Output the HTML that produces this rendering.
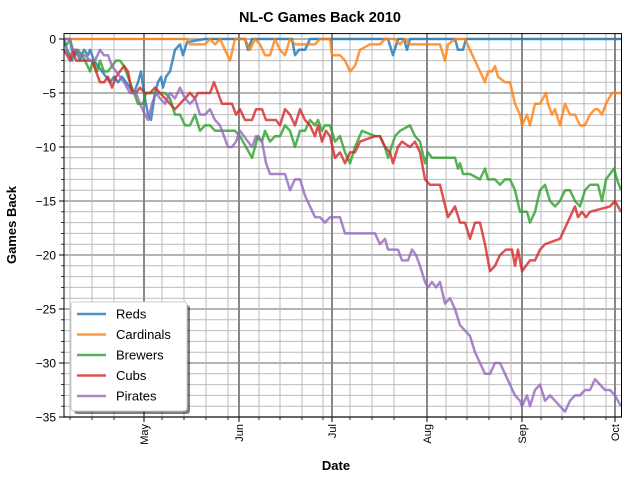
<!DOCTYPE html>
<html><head><meta charset="utf-8"><style>
html,body{margin:0;padding:0;background:#fff;}
svg{display:block;font-family:"Liberation Sans","DejaVu Sans",sans-serif;}
</style></head><body>
<svg id="s" width="640" height="480" xmlns="http://www.w3.org/2000/svg"></svg>
<script>
var S=document.getElementById('s'),h='';
function Y(v){return 39-v*10.8;}
var L=64,R=621.5,T=33.6,B=417;
for(var v=0;v>=-35;v--){h+='<line x1="'+L+'" x2="'+R+'" y1="'+Y(v)+'" y2="'+Y(v)+'" stroke="'+(v%5==0?'#999':'#bbb')+'" stroke-width="'+(v%5==0?1.6:1)+'"/>';}
var minor=[70,92,114,162,184,206,228,259,280,302,323,350,372,394,446,467,489,511,541,562,584,606];
minor.forEach(function(x){h+='<line x1="'+x+'" x2="'+x+'" y1="'+T+'" y2="'+B+'" stroke="#bbb" stroke-width="1"/>';h+='<line x1="'+x+'" x2="'+x+'" y1="'+B+'" y2="'+(B+3)+'" stroke="#000" stroke-width="0.8"/>';});
var major=[[144,'May'],[239,'Jun'],[332,'Jul'],[427,'Aug'],[522,'Sep'],[615,'Oct']];
major.forEach(function(m){h+='<line x1="'+m[0]+'" x2="'+m[0]+'" y1="'+T+'" y2="'+B+'" stroke="#888" stroke-width="2"/>';
h+='<line x1="'+m[0]+'" x2="'+m[0]+'" y1="'+B+'" y2="'+(B+5)+'" stroke="#000" stroke-width="1"/>';
h+='<text transform="translate('+(m[0]+4)+','+(B+7)+') rotate(-90)" text-anchor="end" font-size="11">'+m[1]+'</text>';});
for(var v=0;v>=-35;v-=5){h+='<line x1="'+(L-5)+'" x2="'+L+'" y1="'+Y(v)+'" y2="'+Y(v)+'" stroke="#000"/>';h+='<text x="'+(L-8)+'" y="'+(Y(v)+4.5)+'" text-anchor="end" font-size="12">'+(v==0?'0':'\u2212'+(-v))+'</text>';}
for(var v=-1;v>-35;v--){if(v%5)h+='<line x1="'+(L-3)+'" x2="'+L+'" y1="'+Y(v)+'" y2="'+Y(v)+'" stroke="#000" stroke-width="0.8"/>';}
var D={
'#1f77b4':[[64,0],[67,-1],[72,-2],[76,-1],[80,-2],[84,-1],[88,-1.5],[90,-1],[94,-2],[98,-2.5],[102,-3],[106,-3.5],[110,-4],[114,-3.5],[118,-4],[122,-3.5],[126,-4],[130,-4.5],[134,-5],[138,-4],[141,-3],[144,-5],[148,-7],[151,-7.5],[155,-5],[158,-4],[161,-3.5],[163,-4.5],[166,-3.5],[170,-3],[175,-1],[180,-0.5],[183,-1.5],[187,-0.3],[205,0],[245,0],[248,-1],[252,0],[292,0],[295,-1.5],[299,-1],[305,-1],[310,0],[388,0],[393,-1.5],[398,0],[404,0],[407,-1],[410,0],[455,0],[458,-1],[463,-1],[466,0],[621,0]],
'#ff7f0e':[[64,0],[187,0],[190,-0.5],[205,-0.5],[210,0],[215,-0.5],[220,0],[225,-1],[230,-2],[235,0],[245,0],[250,-1],[255,0],[260,-0.5],[265,-1.5],[270,-1.5],[275,0],[280,-1],[285,-1.5],[290,0],[295,-0.5],[305,-0.5],[315,-0.5],[320,0],[330,0],[332,-1.5],[340,-1.5],[345,-2],[350,-3],[355,-2.5],[360,-1],[370,-0.5],[380,-0.5],[385,0],[395,0],[400,-0.5],[405,0],[410,-0.5],[428,-0.5],[440,-0.5],[445,-2],[448,-0.5],[455,0],[465,0],[470,-1],[475,-2],[480,-3],[485,-4],[488,-3],[492,-3],[495,-2.5],[498,-3.5],[505,-4],[510,-4],[515,-6],[520,-7],[522,-8],[527,-7],[530,-8],[535,-6],[540,-6],[546,-5],[548,-6],[552,-7],[555,-6.5],[560,-8],[565,-6],[570,-7],[575,-7],[580,-8],[585,-8],[590,-7],[595,-6.5],[598,-6.5],[602,-7],[606,-6],[612,-5],[621,-5]],
'#2ca02c':[[64,-0.5],[67,-0.5],[70,0],[72,-1],[75,-1.5],[78,-1],[82,-1.5],[85,-2],[90,-3],[93,-2],[97,-3],[100,-2],[104,-3],[108,-3],[112,-2.5],[116,-2],[120,-2],[124,-2.5],[130,-4],[134,-5],[138,-6],[143,-6],[146,-5],[160,-5],[165,-5],[170,-5.5],[175,-7],[180,-7],[185,-8],[190,-8],[195,-7],[200,-8.5],[205,-8],[210,-8],[215,-8.5],[222,-8.5],[235,-8.5],[240,-9],[246,-10],[252,-11],[258,-9],[262,-9.5],[265,-8.5],[270,-9.5],[275,-9],[280,-9],[285,-8],[290,-8.5],[295,-10],[300,-8.5],[305,-8.5],[310,-7.5],[315,-8],[318,-7.5],[322,-8.5],[325,-8],[330,-8],[335,-9.5],[340,-9],[345,-10.5],[350,-11.5],[355,-10],[362,-8.5],[375,-9],[380,-9],[385,-10],[388,-11],[395,-9],[400,-8.5],[410,-8],[415,-9],[420,-9.5],[425,-11.5],[428,-10.5],[432,-11],[455,-11],[458,-12],[460,-11.5],[463,-12.5],[470,-12.5],[480,-13],[485,-12],[488,-13],[495,-13],[500,-13.5],[505,-13],[510,-13],[515,-14],[520,-16],[527,-16],[530,-17],[535,-16],[540,-14],[545,-13.5],[550,-15],[555,-15.5],[560,-15],[565,-14],[570,-14],[575,-15],[580,-15.5],[585,-14],[590,-13.5],[598,-13.5],[602,-15],[606,-13],[610,-12.5],[614,-12],[617,-13],[621,-14]],
'#d62728':[[64,-1],[67,-1.5],[70,-2],[73,-1],[76,-2],[92,-2],[96,-3],[100,-4],[104,-4],[108,-3.5],[112,-4.5],[116,-3.5],[120,-3],[124,-2.5],[128,-3],[132,-5],[136,-5],[140,-4.5],[145,-5],[150,-5],[155,-4.5],[160,-5],[165,-5.5],[170,-6],[175,-6.5],[180,-6],[185,-5.5],[190,-5],[195,-5.5],[198,-5],[210,-5],[214,-4],[218,-5],[222,-6],[232,-6],[236,-7],[240,-6.5],[245,-7.5],[252,-7.5],[256,-6.5],[262,-6.5],[266,-7.5],[276,-7.5],[280,-8],[285,-6.5],[290,-7],[295,-8],[300,-6.5],[305,-7.5],[310,-8],[315,-9],[318,-8],[322,-9.5],[326,-8.5],[330,-9],[335,-11],[340,-10.5],[345,-11.5],[350,-10.5],[355,-10.5],[360,-9.5],[375,-9],[380,-9],[385,-10],[390,-10.5],[393,-11.5],[398,-10],[402,-9.5],[410,-10],[415,-9.5],[420,-10.5],[425,-13],[430,-13.5],[440,-13.5],[448,-16.5],[455,-15.5],[460,-17],[465,-17],[470,-18.5],[475,-17],[480,-17],[485,-19],[490,-21.5],[495,-21],[500,-20],[506,-19.5],[512,-19.5],[515,-21],[518,-19.5],[522,-21.5],[526,-21],[530,-20.5],[535,-20.5],[540,-19.5],[545,-19],[560,-18.5],[565,-17.5],[570,-16.5],[575,-15.5],[578,-16.5],[582,-16],[586,-16.5],[590,-16],[610,-15.5],[615,-15],[621,-16]],
'#9467bd':[[64,0],[70,0],[73,-1],[76,-1],[80,-1.5],[85,-1.5],[90,-2],[95,-2],[100,-1],[104,-1.5],[108,-1.5],[112,-2.5],[116,-3],[120,-3.5],[124,-4],[130,-5],[136,-5],[140,-6],[145,-7],[148,-7.5],[152,-6],[156,-5],[160,-5.5],[165,-6],[170,-5],[175,-5.5],[180,-4.5],[185,-5.5],[190,-6],[195,-5.5],[200,-7],[205,-7],[210,-6.5],[215,-7.5],[220,-8],[228,-10],[232,-10],[236,-9.5],[240,-8.5],[244,-9],[248,-9.5],[252,-10],[256,-9],[262,-9.5],[266,-11.5],[270,-12.5],[285,-12.5],[290,-14],[295,-13],[300,-13],[305,-14.5],[310,-15.5],[315,-16.5],[320,-16.5],[325,-17],[330,-16.5],[340,-16.5],[345,-18],[375,-18],[380,-19],[385,-18.5],[388,-19.5],[398,-19.5],[402,-20.5],[408,-20.5],[412,-19.5],[416,-20],[420,-21],[425,-22.5],[428,-23],[432,-22.5],[436,-23],[440,-22.5],[445,-24.5],[450,-24],[455,-25],[460,-26.5],[465,-27],[470,-27.5],[475,-29],[480,-30],[485,-31],[490,-31],[495,-30],[500,-30],[505,-31],[510,-32],[515,-33],[520,-33.5],[522,-34],[527,-33],[530,-34],[535,-32.5],[540,-32],[545,-33.5],[550,-33],[555,-33.5],[560,-34],[565,-34.5],[570,-33.5],[575,-33],[580,-33],[585,-32.5],[590,-32.5],[595,-31.5],[600,-32],[605,-32.5],[610,-32.5],[615,-33],[618,-33.5],[621,-34]]};
h+='<defs><clipPath id="c"><rect x="'+L+'" y="'+T+'" width="'+(R-L)+'" height="'+(B-T)+'"/></clipPath></defs><g clip-path="url(#c)">';
for(var k in D){h+='<polyline fill="none" stroke="'+k+'" stroke-opacity="0.8" stroke-width="2.5" stroke-linejoin="round" points="'+D[k].map(function(p){return p[0]+','+Y(p[1]).toFixed(1);}).join(' ')+'"/>';}
h+='</g>';
h+='<rect x="'+L+'" y="'+T+'" width="'+(R-L)+'" height="'+(B-T)+'" fill="none" stroke="#000" stroke-width="1"/>';
h+='<rect x="74" y="305" width="116" height="109" rx="3" fill="#000" fill-opacity="0.5"/>';
h+='<rect x="71" y="302" width="116" height="109" rx="3" fill="#fff" stroke="#ccc"/>';
var n=[['Reds','#1f77b4'],['Cardinals','#ff7f0e'],['Brewers','#2ca02c'],['Cubs','#d62728'],['Pirates','#9467bd']];
n.forEach(function(e,i){var y=314+i*20.5;h+='<line x1="77" x2="106" y1="'+y+'" y2="'+y+'" stroke="'+e[1]+'" stroke-opacity="0.8" stroke-width="2.5"/><text x="116" y="'+(y+4.5)+'" font-size="13">'+e[0]+'</text>';});
h+='<text x="320" y="22" text-anchor="middle" font-size="14.5" font-weight="bold">NL-C Games Back 2010</text>';
h+='<text x="336" y="470" text-anchor="middle" font-size="13" font-weight="bold">Date</text>';
h+='<text transform="translate(16,225) rotate(-90)" text-anchor="middle" font-size="13" font-weight="bold">Games Back</text>';
S.innerHTML=h;
</script>
</body></html>
